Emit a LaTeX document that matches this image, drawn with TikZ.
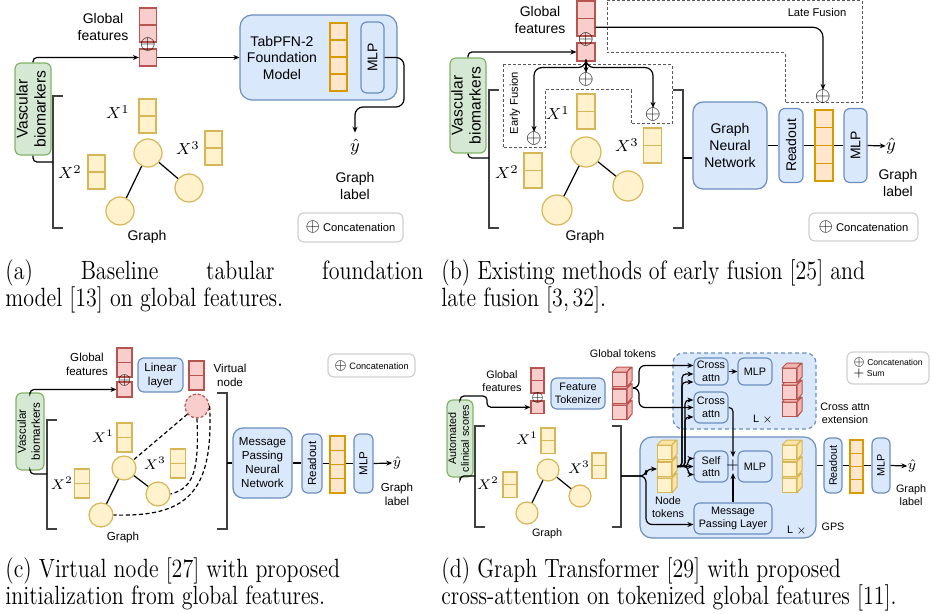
\documentclass[tikz,border=0pt]{standalone}
\usepackage{fontspec}
\newfontfamily\diagfont{Liberation Sans}
\usepackage{graphicx}
\usepackage{tikz}
\usetikzlibrary{arrows.meta,positioning,backgrounds,calc}
\definecolor{redfl}{HTML}{F8CECC}
\definecolor{reddr}{HTML}{B85450}
\definecolor{redsd}{HTML}{F0B4B1}
\definecolor{ylwfl}{HTML}{FFF2CC}
\definecolor{ylwdr}{HTML}{D6B656}
\definecolor{ylwsd}{HTML}{FBE4A6}
\definecolor{orgfl}{HTML}{FFE6CC}
\definecolor{orgdr}{HTML}{D79B00}
\definecolor{blufl}{HTML}{DAE8FC}
\definecolor{bludr}{HTML}{6C8EBF}
\definecolor{grnfl}{HTML}{D5E8D4}
\definecolor{grndr}{HTML}{82B366}
\definecolor{legdr}{HTML}{D0D0D0}
\newcommand{\ftA}{\diagfont\fontsize{7}{8.4}\selectfont}
\newcommand{\ftAg}{\diagfont\fontsize{7.8}{9}\selectfont}
\newcommand{\ftAs}{\diagfont\fontsize{5.6}{6.7}\selectfont}
\newcommand{\ftC}{\diagfont\fontsize{5.8}{7}\selectfont}
\newcommand{\ftCs}{\diagfont\fontsize{4.6}{5.5}\selectfont}
\newcommand{\ftD}{\diagfont\fontsize{5.4}{6.3}\selectfont}
\newcommand{\ftDs}{\diagfont\fontsize{4.3}{5.4}\selectfont}
\newcommand{\ftM}[1]{\fontsize{#1}{#1}\selectfont}
\newcommand{\opl}[1]{{\fontsize{#1}{#1}\selectfont$\oplus$}}
% captions: slightly stretched upright
\newcommand{\capbox}[2]{\scalebox{1}[1.2]{\parbox[t]{#1}{\fontsize{11}{11.3}\selectfont #2}}}
\tikzset{
  sz/.style 2 args={minimum width=#1*0.5pt, minimum height=#2*0.5pt},
  redcell/.style={draw=reddr, fill=redfl, line width=0.55pt, inner sep=0pt},
  ylwcell/.style={draw=ylwdr, fill=ylwfl, line width=0.55pt, inner sep=0pt},
  orgcell/.style={draw=orgdr, fill=orgfl, line width=0.65pt, inner sep=0pt},
  bluebox/.style={draw=bludr, fill=blufl, line width=0.6pt, rounded corners=3pt, inner sep=0pt, align=center},
  greenbox/.style={draw=grndr, fill=grnfl, line width=0.6pt, rounded corners=3pt, inner sep=0pt},
  legbox/.style={draw=legdr, fill=white, line width=0.6pt, rounded corners=3pt, inner sep=0pt},
  gnode/.style={circle, draw=ylwdr, fill=ylwfl, line width=0.6pt, inner sep=0pt},
  txt/.style={inner sep=0pt, align=center},
  conn/.style={line width=0.6pt},
  brkt/.style={line width=0.6pt, black!75},
  fusion/.style={dash pattern=on 1.5pt off 1pt, line width=0.5pt, black!65},
  caption/.style={anchor=north west, inner sep=0pt},
}
% column of feature cells: name, centre x, top y, count, width, height, style
\newcommand{\cellcol}[7]{%
  \foreach \i in {1,...,#4}{\node[#7, sz={#5}{#6}] (#1-\i) at (#2,{#3+(\i-0.5)*#6}) {};}}
% token cube: name, left x, top y of front face, colour prefix
\newcommand{\tokcube}[4]{%
  \node[draw=#4dr, fill=#4fl, line width=0.5pt, inner sep=0pt, sz={14}{14}, anchor=north west] (#1) at (#2,#3) {};
  \draw[draw=#4dr, fill=#4sd, line width=0.5pt, line join=round] (#1.north west) -- ++(2.5pt,2.5pt) -- ++(7pt,0pt) -- (#1.north east) -- cycle;
  \draw[draw=#4dr, fill=#4sd, line width=0.5pt, line join=round] (#1.north east) -- ++(2.5pt,2.5pt) -- ++(0pt,-7pt) -- (#1.south east) -- cycle;}
\begin{document}
\begin{tikzpicture}[x=0.5pt, y=-0.5pt, >={Stealth[length=3pt,width=2.5pt]}]
  \useasboundingbox (0,0) rectangle (951,614);

  % (a) Baseline tabular model
  \node[txt, font=\ftA] (gfta) at (103,27) {Global\\features};
  \cellcol{gfa}{148}{8}{2}{17}{17}{redcell}
  \node[redcell, sz={17}{17}] (vba) at (148,57.5) {};
  \node[txt, font=\ftM{10}] (cata) at (148,45) {$\oplus$};
  \node[greenbox, sz={34}{92}, font=\ftAg] (gba) at (33,109)
    {\rotatebox{90}{\begin{tabular}{@{}c@{}}Vascular\\biomarkers\end{tabular}}};
  \node[bluebox, sz={157}{85}, rounded corners=6pt] (tabm) at (318.5,57.5) {};
  \node[txt, font=\ftA] (tabt) at (282,58) {TabPFN-2\\Foundation\\Model};
  \cellcol{ema}{338.5}{23}{4}{17}{17}{orgcell}
  \node[bluebox, sz={23}{71}, font=\ftA] (mlpa) at (372.5,57.5) {\rotatebox{90}{MLP}};
  \node[txt, font=\ftM{9}] (yha) at (355,147) {$\hat{y}$};
  \node[txt, font=\ftA] (lbla) at (355,186) {Graph\\label};
  \node[legbox, sz={105}{29}, font=\ftAs] (lega) at (350.5,227.5) {\opl{9}\ Concatenation};
  \cellcol{x1a}{147.5}{99}{2}{17}{17}{ylwcell}
  \cellcol{x3a}{213.5}{131}{2}{17}{17}{ylwcell}
  \cellcol{x2a}{96.5}{155}{2}{17}{17}{ylwcell}
  \node[font=\ftM{8.5}, inner sep=0pt] (lx1a) at (118,112) {$X^1$};
  \node[font=\ftM{8.5}, inner sep=0pt] (lx3a) at (188,148) {$X^3$};
  \node[font=\ftM{8.5}, inner sep=0pt] (lx2a) at (70,172) {$X^2$};
  \node[gnode, minimum size=14pt] (n1a) at (148,153) {};
  \node[gnode, minimum size=14pt] (n3a) at (189,188) {};
  \node[gnode, minimum size=14pt] (n2a) at (120,211) {};
  \draw[conn] (n1a) -- (n2a);
  \draw[conn] (n1a) -- (n3a);
  \node[txt, font=\ftA] (grla) at (147,237) {Graph};
  \draw[brkt] (63,96) -- (53,96) -- (53,228) -- (63,228);
  \coordinate (bla) at (53,162);
  \draw[conn, rounded corners=2pt] (gba.south) |- (bla);
  \draw[conn, ->, rounded corners=2pt] (gba.north) |- (vba.west);
  \draw[conn, ->] (vba.east) -- (tabm.west);
  \draw[conn, ->, rounded corners=4pt] (mlpa.east) -| (404,107) -| ([yshift=3pt]yha.north);

  % (b) Early and late fusion
  \draw[fusion] (607,1) -- (862,1) -- (862,103) -- (785,103) -- (785,53) -- (607,53) -- cycle;
  \node[txt, font=\ftAs] (lfb) at (817,13) {Late Fusion};
  \draw[fusion] (503,65) -- (672,65) -- (672,124) -- (631,124) -- (631,90) -- (545,90) -- (545,148) -- (503,148) -- cycle;
  \node[txt, font=\ftAs, rotate=90] (efb) at (515,103) {Early Fusion};
  \node[txt, font=\ftA] (gftb) at (540,20) {Global\\features};
  \cellcol{gfb}{586}{1}{2}{18}{17.5}{redcell}
  \node[redcell, sz={18}{18}] (vbb) at (586,52) {};
  \node[txt, font=\ftM{10}] (catb) at (586,40) {$\oplus$};
  \node[greenbox, sz={34}{95}, font=\ftAg] (gbb) at (468,105.5)
    {\rotatebox{90}{\begin{tabular}{@{}c@{}}Vascular\\biomarkers\end{tabular}}};
  \node[txt, font=\ftM{10}] (o1b) at (586,80) {$\oplus$};
  \node[txt, font=\ftM{10}] (o2b) at (534,139) {$\oplus$};
  \node[txt, font=\ftM{10}] (o3b) at (653,115) {$\oplus$};
  \node[txt, font=\ftM{10}] (olb) at (823,97) {$\oplus$};
  \cellcol{x1b}{586}{94}{2}{18}{17.5}{ylwcell}
  \cellcol{x3b}{652.5}{128}{2}{18}{17.5}{ylwcell}
  \cellcol{x2b}{533}{153}{2}{18}{17.5}{ylwcell}
  \node[font=\ftM{8.5}, inner sep=0pt] (lx1b) at (558,113) {$X^1$};
  \node[font=\ftM{8.5}, inner sep=0pt] (lx3b) at (627,145) {$X^3$};
  \node[font=\ftM{8.5}, inner sep=0pt] (lx2b) at (507,172) {$X^2$};
  \node[gnode, minimum size=15pt] (n1b) at (586,152) {};
  \node[gnode, minimum size=15pt] (n3b) at (628,186) {};
  \node[gnode, minimum size=15pt] (n2b) at (557,210) {};
  \draw[conn] (n1b) -- (n2b);
  \draw[conn] (n1b) -- (n3b);
  \node[txt, font=\ftA] (grlb) at (585,237) {Graph};
  \draw[brkt] (499,90) -- (489,90) -- (489,228) -- (499,228);
  \draw[brkt] (673,90) -- (683,90) -- (683,228) -- (673,228);
  \coordinate (blb) at (489,158);
  \coordinate (brb) at (683,158);
  \node[bluebox, sz={74}{87}, rounded corners=5pt, font=\ftA] (gnnb) at (730,145.5) {Graph\\Neural\\Network};
  \node[bluebox, sz={24}{74}, font=\ftA] (rdb) at (791,145.5) {\rotatebox{90}{Readout}};
  \node[bluebox, sz={23}{74}, font=\ftA] (mlpb) at (855.5,145.5) {\rotatebox{90}{MLP}};
  \begin{scope}[on background layer]
    \draw[conn] (gnnb.east) -- (rdb.west);
    \draw[conn] (rdb.east) -- (mlpb.west);
  \end{scope}
  \cellcol{emb}{824}{110}{4}{18}{17.75}{orgcell}
  \node[txt, font=\ftM{9}] (yhb) at (891,146) {$\hat{y}$};
  \node[txt, font=\ftA] (lblb) at (898,183) {Graph\\label};
  \node[legbox, sz={109}{28}, font=\ftAs] (legb) at (863.5,227) {\opl{9}\ Concatenation};
  \draw[conn, rounded corners=2pt] (gbb.south) |- (blb);
  \draw[conn, ->, rounded corners=2pt] (gbb.north) |- (vbb.west);
  \draw[conn, ->] (vbb.south) -- (o1b.north);
  \draw[conn, ->, rounded corners=4pt] (vbb.south) -- ++(0,6) -| (o2b.north);
  \draw[conn, ->, rounded corners=4pt] (vbb.south) -- ++(0,6) -| (o3b.north);
  \draw[conn, ->, rounded corners=5pt] (gfb-2.east) -| (olb.north);
  \draw[conn] (brb) -- (brb -| gnnb.west);
  \draw[conn, ->] (mlpb.east) -- (yhb.west);

  % (c) Virtual node
  \node[txt, font=\ftC] (gftc) at (87,364) {Global\\features};
  \cellcol{gfc}{124.5}{348}{2}{15}{14.5}{redcell}
  \node[redcell, sz={15}{15}] (vbc) at (124.5,389.5) {};
  \node[txt, font=\ftM{8}] (catc) at (124.5,380) {$\oplus$};
  \node[bluebox, sz={45}{34}, font=\ftC] (linc) at (160.5,375) {Linear\\layer};
  \cellcol{vfc}{196.5}{361}{2}{15}{14.5}{redcell}
  \node[txt, font=\ftC] (vntc) at (230,375) {Virtual\\node};
  \node[circle, draw=reddr, fill=redfl, dash pattern=on 1.5pt off 1pt, line width=0.6pt, minimum size=12pt] (vnc) at (197,406) {};
  \node[legbox, sz={87}{23}, font=\ftCs] (legc) at (371.5,365.5) {\opl{7.5}\ Concatenation};
  \node[greenbox, sz={28}{77}, font=\ftC] (gbc) at (30,431.5)
    {\rotatebox{90}{\begin{tabular}{@{}c@{}}Vascular\\biomarkers\end{tabular}}};
  \draw[brkt] (57,420) -- (47,420) -- (47,529) -- (57,529);
  \draw[brkt] (217,393) -- (227,393) -- (227,529) -- (217,529);
  \coordinate (blc) at (47,474);
  \coordinate (brc) at (227,463);
  \cellcol{x1c}{124.5}{423}{2}{15}{14.5}{ylwcell}
  \cellcol{x3c}{178}{449}{2}{15}{14.5}{ylwcell}
  \cellcol{x2c}{82}{469}{2}{15}{14.5}{ylwcell}
  \node[font=\ftM{7.2}, inner sep=0pt] (lx1c) at (103,436) {$X^1$};
  \node[font=\ftM{7.2}, inner sep=0pt] (lx3c) at (155,463) {$X^3$};
  \node[font=\ftM{7.2}, inner sep=0pt] (lx2c) at (62,483) {$X^2$};
  \node[gnode, minimum size=12pt] (n1c) at (124,468) {};
  \node[gnode, minimum size=12pt] (n3c) at (158,494) {};
  \node[gnode, minimum size=12pt] (n2c) at (101,515) {};
  \draw[conn] (n1c) -- (n2c);
  \draw[conn] (n1c) -- (n3c);
  \draw[conn, dash pattern=on 2pt off 1.3pt] (vnc) -- (n1c);
  \draw[conn, dash pattern=on 2pt off 1.3pt] (vnc.south) .. controls (199,470) and (194,488) .. (n3c.east);
  \draw[conn, dash pattern=on 2pt off 1.3pt] (vnc.east) .. controls (214,495) and (185,517) .. (n2c.east);
  \node[txt, font=\ftC] (grlc) at (123,537) {Graph};
  \node[bluebox, sz={59}{70}, rounded corners=5pt, font=\ftC] (mpc) at (262.5,463) {Message\\Passing\\Neural\\Network};
  \node[bluebox, sz={20}{59}, font=\ftC] (rdc) at (312,463.5) {\rotatebox{90}{Readout}};
  \node[bluebox, sz={19}{59}, font=\ftC] (mlpc) at (363.5,463.5) {\rotatebox{90}{MLP}};
  \begin{scope}[on background layer]
    \draw[conn] (mpc.east) -- (mpc.east -| rdc.west);
    \draw[conn] (rdc.east) -- (mlpc.west);
  \end{scope}
  \cellcol{emc}{337.5}{436}{4}{15}{14.25}{orgcell}
  \node[txt, font=\ftM{7.5}] (yhc) at (397,463) {$\hat{y}$};
  \node[txt, font=\ftC] (lblc) at (397,494) {Graph\\label};
  \draw[conn, rounded corners=2pt] (gbc.south) |- (blc);
  \draw[conn, ->, rounded corners=2pt] (gbc.north) |- (vbc.west);
  \draw[conn] (brc) -- (mpc.west);
  \draw[conn, ->] (mlpc.east) -- (yhc.west);

  % (d) Graph transformer with cross attention
  \node[bluebox, sz={143}{76}, rounded corners=5pt, dash pattern=on 2pt off 1.5pt] (cxd) at (744.5,391) {};
  \node[bluebox, sz={176}{101}, rounded corners=6pt] (gpsd) at (728,487.5) {};
  \node[txt, font=\ftD] (gtkd) at (623,354) {Global tokens};
  \node[txt, font=\ftD] (gftd) at (502,381) {Global\\features};
  \cellcol{gfd}{537.5}{368}{2}{13}{12.5}{redcell}
  \node[redcell, sz={13}{12.5}] (vbd) at (537.5,407.25) {};
  \node[txt, font=\ftM{7.5}] (catd) at (537.5,398) {$\oplus$};
  \node[greenbox, sz={26}{77}, font=\ftD] (gbd) at (460,438.5)
    {\rotatebox{90}{\begin{tabular}{@{}c@{}}Automated\\clinical scores\end{tabular}}};
  \node[bluebox, sz={54}{31}, font=\ftD] (ftkd) at (578,393.5) {Feature\\Tokenizer};
  \foreach \i/\yy in {3/405,2/388.5,1/372} {\tokcube{gtk-\i}{612}{\yy}{red}}
  \coordinate (brtip) at (634,388);
  \node[bluebox, sz={34}{27}, font=\ftD] (cad1) at (711,371.5) {Cross\\attn};
  \node[bluebox, sz={34}{27}, font=\ftD] (mlpd1) at (755,371.5) {MLP};
  \node[bluebox, sz={34}{31}, font=\ftD] (cad2) at (711,407.5) {Cross\\attn};
  \foreach \i/\yy in {3/402,2/385,1/368} {\tokcube{ogt-\i}{782}{\yy}{red}}
  \node[txt, font=\ftD] (lxd1) at (763,420) {L $\times$};
  \node[txt, font=\ftD] (cxtd) at (845,413) {Cross attn\\extension};
  \node[legbox, sz={82}{32}, font=\ftDs, align=left] (legd) at (888,368)
    {\opl{6.5}\ Concatenation\\{\ftM{6.5}$+$}\ Sum};
  \foreach \i/\yy in {3/478,2/461.5,1/445} {\tokcube{ntk-\i}{657}{\yy}{ylw}}
  \foreach \i/\yy in {3/478,2/461.5,1/445} {\tokcube{otk-\i}{782}{\yy}{ylw}}
  \node[txt, font=\ftD] (ntlb) at (668,507) {Node\\tokens};
  \node[bluebox, sz={34}{31}, font=\ftD] (sad) at (711,466.5) {Self\\attn};
  \node[txt, font=\ftM{8}, inner sep=1pt] (plsd) at (733,465) {$+$};
  \node[bluebox, sz={34}{31}, font=\ftD] (mlpd2) at (755,466.5) {MLP};
  \node[bluebox, sz={78}{31}, font=\ftD] (mpld) at (733,518.5) {Message\\Passing Layer};
  \node[txt, font=\ftD] (gpsl) at (833,527) {GPS};
  \node[txt, font=\ftD] (lxd2) at (797,531) {L $\times$};
  \node[bluebox, sz={18}{55}, font=\ftD] (rdd) at (833,465.5) {\rotatebox{90}{Readout}};
  \node[bluebox, sz={18}{55}, font=\ftD] (mlpd3) at (881,465.5) {\rotatebox{90}{MLP}};
  \begin{scope}[on background layer]
    \draw[conn] (gpsd.east |- rdd.west) -- (rdd.west);
    \draw[conn] (rdd.east) -- (mlpd3.west);
  \end{scope}
  \cellcol{emd}{856.5}{440}{4}{13}{13.25}{orgcell}
  \node[txt, font=\ftM{7.5}] (yhd) at (912,466) {$\hat{y}$};
  \node[txt, font=\ftD] (lbld) at (911,495) {Graph\\label};
  \draw[brkt] (485,426) -- (475,426) -- (475,527) -- (485,527);
  \draw[brkt] (612,426) -- (621,426) -- (621,527) -- (612,527);
  \coordinate (bld) at (475,476);
  \coordinate (brd) at (621,476);
  \cellcol{x1d}{548}{428}{2}{14}{12.8}{ylwcell}
  \cellcol{x3d}{599}{453}{2}{14}{12.8}{ylwcell}
  \cellcol{x2d}{510}{472}{2}{14}{12.8}{ylwcell}
  \node[font=\ftM{7.2}, inner sep=0pt] (lx1d) at (527,438) {$X^1$};
  \node[font=\ftM{7.2}, inner sep=0pt] (lx3d) at (579,467) {$X^3$};
  \node[font=\ftM{7.2}, inner sep=0pt] (lx2d) at (488,483) {$X^2$};
  \node[gnode, minimum size=11pt] (n1d) at (548,470) {};
  \node[gnode, minimum size=11pt] (n3d) at (580,496) {};
  \node[gnode, minimum size=11pt] (n2d) at (527,513) {};
  \draw[conn] (n1d) -- (n2d);
  \draw[conn] (n1d) -- (n3d);
  \node[txt, font=\ftD] (grld) at (547,534) {Graph};
  \coordinate (ntko) at (677,466.5);
  \draw[conn, rounded corners=2pt] (gbd.south) |- (bld);
  \draw[conn, ->, rounded corners=2pt] (gbd.north) |- (487,396) |- (vbd.west);
  \draw[conn, ->, rounded corners=3pt] (brtip) -- ++(5,0) |- ([yshift=3pt]cad1.west);
  \draw[conn, ->, rounded corners=3pt] (brtip) -- ++(5,0) |- (cad2.west);
  \draw[conn, ->] (cad1) -- (mlpd1);
  \draw[conn, ->, rounded corners=3pt] (brd) -- (646,476) |- (ntk-2.west);
  \draw[conn, ->, rounded corners=3pt] (brd) -- (646,476) |- ([yshift=-3pt]mpld.west);
  \draw[conn, ->, rounded corners=2pt] (ntko) -- (688,466.5) |- ([yshift=4pt]sad.west);
  \draw[conn, ->] (ntko) -- (sad.west);
  \draw[conn, ->, rounded corners=2pt] (ntko) -- (688,466.5) |- ([yshift=-4pt]sad.west);
  \draw[conn, ->, rounded corners=2pt] (ntko) -| (682,374) -- (cad1.west |- 0,374);
  \draw[conn, ->, rounded corners=2pt] (ntko) -| (682,382) -- (cad1.west |- 0,382);
  \draw[conn, ->, rounded corners=2pt] (ntko) -| (685,400) -- (cad2.west |- 0,400);
  \draw[conn, ->, rounded corners=2pt] (ntko) -| (685,417) -- (cad2.west |- 0,417);
  \draw[conn, ->, rounded corners=2pt] (cad2.east) -| (plsd.north);
  \draw[conn, ->] (mpld.north) -- (plsd.south);
  \draw[conn, ->] (mlpd3.east) -- (yhd.west);

  % captions
  \node[caption] (capa) at (5,259)
    {\capbox{209pt}{(a) Baseline tabular foundation\linebreak model [13] on global features.}};
  \node[caption] (capb) at (441,259)
    {\capbox{250pt}{\raggedright (b) Existing methods of early fusion [25] and\\late fusion [3,\,32].}};
  \node[caption] (capc) at (5,557)
    {\capbox{209pt}{\raggedright (c) Virtual node [27] with proposed\\initialization from global features.}};
  \node[caption] (capd) at (441,557)
    {\capbox{262pt}{\raggedright (d) Graph Transformer [29] with proposed\\cross-attention on tokenized global features [11].}};
\end{tikzpicture}
\end{document}
